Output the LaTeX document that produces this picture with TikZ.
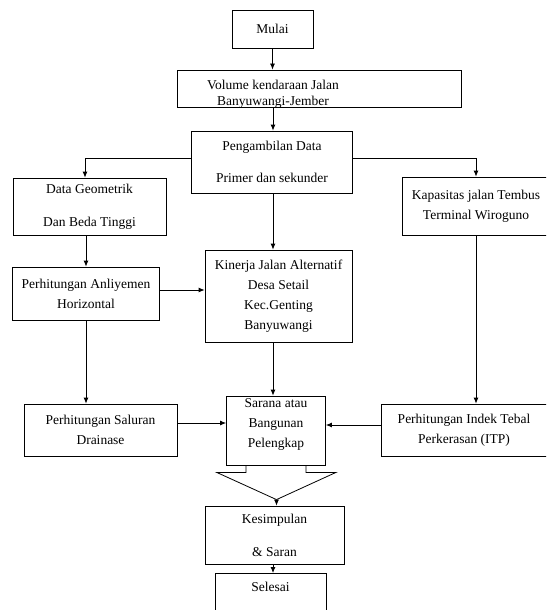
\documentclass[tikz,border=0pt]{standalone}
\usepackage{fontspec}
\setmainfont{Liberation Serif}
\usetikzlibrary{arrows.meta}
\newcommand{\flowfont}{\fontsize{13.5pt}{20pt}\selectfont}

\begin{document}
\begin{tikzpicture}[x=1pt,y=-1pt,thick,
  pbox/.style={draw,align=center,inner sep=2pt,font=\flowfont},
  tnode/.style={align=center,inner sep=0pt,font=\flowfont},
  arr/.style={-{Latex[length=6pt,width=5pt]}}]

  \useasboundingbox (0,0) rectangle (546,610);
  \clip (0,0) rectangle (546,610);

  \coordinate (mid) at (273,0);

  \node[pbox,minimum width=81pt,minimum height=38pt] (mulai) at (272.5,29) {Mulai};

  \node[pbox,minimum width=284pt,minimum height=37pt] (volume) at (319,88.5) {};
  \node[tnode,font=\fontsize{13.5pt}{16pt}\selectfont] (voltext) at (273,94) {Volume kendaraan Jalan\\Banyuwangi-Jember};

  \node[pbox,minimum width=161.5pt,minimum height=62pt] (ambil) at (272,162) {Pengambilan Data\\[12pt]Primer dan sekunder};

  \node[pbox,minimum width=153pt,minimum height=57pt] (geom) at (89.5,206.5) {Data Geometrik\\[13pt]Dan Beda Tinggi};

  \node[pbox,minimum width=148pt,minimum height=58pt] (kapasitas) at (476,206) {Kapasitas jalan Tembus\\Terminal Wiroguno};

  \node[pbox,minimum width=146.5pt,minimum height=53pt] (anliyemen) at (86,293.5) {Perhitungan Anliyemen\\Horizontal};

  \node[pbox,minimum width=147pt,minimum height=92.6pt] (kinerja) at (278.5,296.3) {Kinerja Jalan Alternatif\\Desa Setail\\Kec.Genting\\Banyuwangi};

  \node[pbox,minimum width=153pt,minimum height=52pt] (saluran) at (100.5,430) {Perhitungan Saluran\\Drainase};

  \node[pbox,minimum width=99pt,minimum height=69pt] (sarana) at (276,430.5) {};
  \node[tnode] (saranatext) at (276,424) {Sarana atau\\Bangunan\\Pelengkap};

  \node[pbox,minimum width=166pt,minimum height=52pt] (indek) at (464,430) {Perhitungan Indek Tebal\\Perkerasan (ITP)};

  \node[pbox,minimum width=139pt,minimum height=58pt] (kesimpulan) at (274.5,535) {Kesimpulan\\[13pt]\& Saran};

  \node[draw,font=\flowfont,inner sep=2pt,minimum width=111pt,anchor=north,
    text height=16pt,text depth=40pt] (selesai) at (270.5,573) {Selesai};

  % vertical flow in the middle
  \draw[arr] (mulai.south) -- (mulai.south |- volume.north);
  \draw[arr] (mid |- volume.south) -- (mid |- ambil.north);
  \draw[arr] (mid |- ambil.south) -- (mid |- kinerja.north);
  \draw[arr] (mid |- kinerja.south) -- (mid |- sarana.north);
  \draw[arr] (mid |- kesimpulan.south) -- (mid |- selesai.north);

  % branches
  \draw[arr] ([yshift=3.5pt]ambil.west) -| ([xshift=-4.5pt]geom.north);
  \draw[arr] ([yshift=3.5pt]ambil.east) -| (kapasitas.north);
  \draw[arr] (geom.south -| anliyemen.north) -- (anliyemen.north);
  \draw[arr] ([yshift=3.5pt]anliyemen.east) -- ([yshift=3.5pt]anliyemen.east -| kinerja.west);
  \draw[arr] (anliyemen.south) -- (anliyemen.south |- saluran.north);
  \draw[arr] (kapasitas.south) -- (kapasitas.south |- indek.north);
  \draw[arr] ([yshift=7pt]saluran.east) -- ([yshift=7pt]saluran.east -| sarana.west);
  \draw[arr] ([yshift=5pt]indek.west) -- ([yshift=5pt]indek.west -| sarana.east);

  % funnel
  \coordinate (tip) at ([xshift=2pt,yshift=6pt]kesimpulan.north);
  \draw (sarana.south) ++(-30,0) -- ++(0,7) -- ++(-29.3,0) -- (tip);
  \draw (sarana.south) ++(30,0) -- ++(0,7) -- ++(30,0) -- (tip);
  \draw[arr] (tip) -- ([xshift=2pt]kesimpulan.north);

\end{tikzpicture}
\end{document}
